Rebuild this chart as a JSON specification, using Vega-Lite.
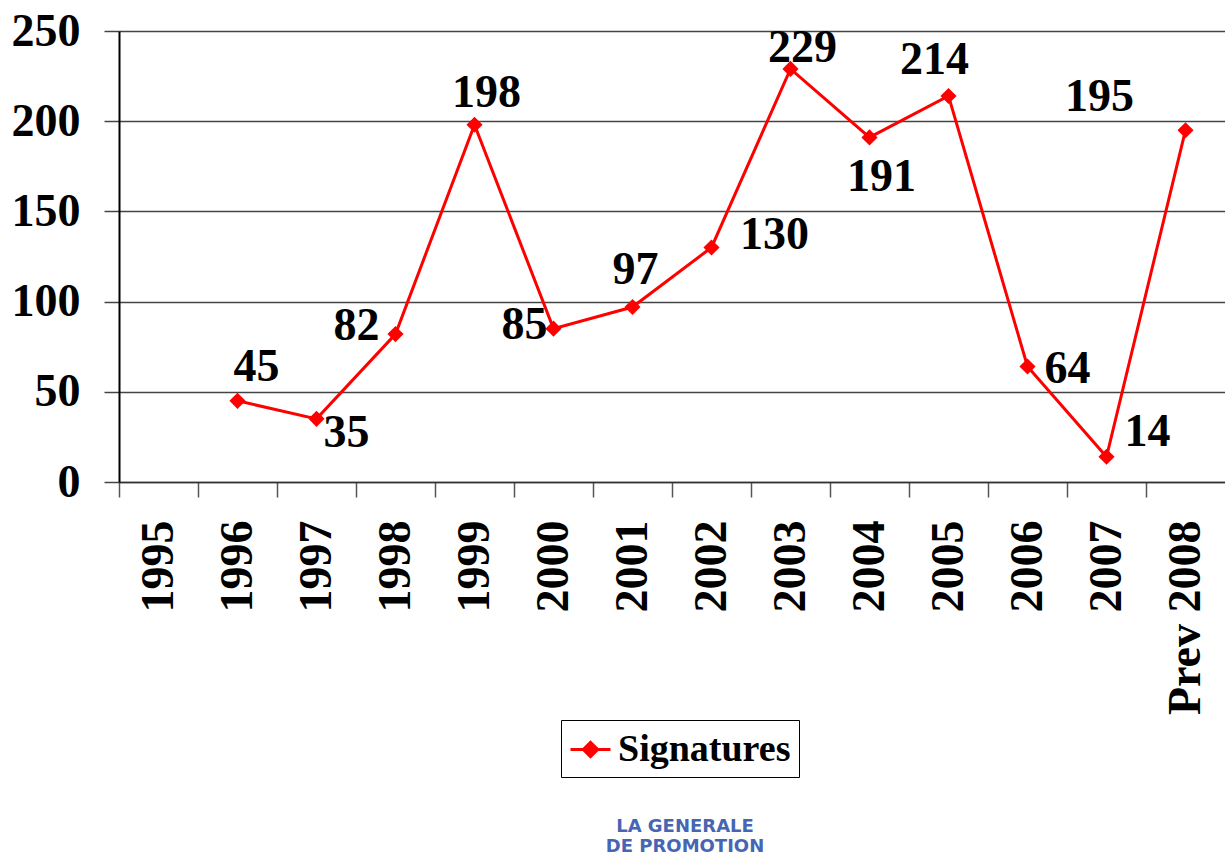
{
  "$schema": "https://vega.github.io/schema/vega-lite/v6.json",
  "autosize": "none",
  "width": 1106,
  "height": 451,
  "padding": {"left": 119, "top": 31, "right": 0, "bottom": 372},
  "background": "white",
  "title": {
    "text": ["LA GENERALE", "DE PROMOTION"],
    "orient": "bottom",
    "anchor": "middle",
    "frame": "group",
    "font": "DejaVu Sans",
    "fontSize": 18,
    "fontWeight": "bold",
    "color": "#4665b3",
    "lineHeight": 20,
    "offset": 40,
    "dx": 13
  },
  "data": {
    "values": [
      {"year": "1995", "value": null},
      {"year": "1996", "value": 45},
      {"year": "1997", "value": 35},
      {"year": "1998", "value": 82},
      {"year": "1999", "value": 198},
      {"year": "2000", "value": 85},
      {"year": "2001", "value": 97},
      {"year": "2002", "value": 130},
      {"year": "2003", "value": 229},
      {"year": "2004", "value": 191},
      {"year": "2005", "value": 214},
      {"year": "2006", "value": 64},
      {"year": "2007", "value": 14},
      {"year": "Prev 2008", "value": 195}
    ]
  },
  "encoding": {
    "x": {
      "field": "year",
      "type": "ordinal",
      "sort": null,
      "scale": {"domain": ["1995","1996","1997","1998","1999","2000","2001","2002","2003","2004","2005","2006","2007","Prev 2008"], "type": "band", "paddingInner": 0, "paddingOuter": 0},
      "axis": {
        "title": null,
        "labelAngle": -90,
        "labelAlign": "right",
        "labelBaseline": "middle",
        "labelFont": "Liberation Serif",
        "labelFontWeight": "bold",
        "labelFontSize": 46,
        "labelColor": "black",
        "labelPadding": 23,
        "labelLimit": 400,
        "labelOverlap": false,
        "bandPosition": 0,
        "tickSize": 15,
        "tickColor": "#555555",
        "tickWidth": 1.5,
        "domainColor": "#333333",
        "domainWidth": 1.5,
        "grid": false
      }
    },
    "y": {
      "field": "value",
      "type": "quantitative",
      "scale": {"domain": [0, 250], "nice": false},
      "axis": {
        "title": null,
        "values": [0, 50, 100, 150, 200, 250],
        "labelFont": "Liberation Serif",
        "labelFontWeight": "bold",
        "labelFontSize": 46,
        "labelColor": "black",
        "labelPadding": 24,
        "tickSize": 15,
        "tickColor": "#444444",
        "tickWidth": 1.5,
        "domainColor": "black",
        "domainWidth": 2,
        "grid": true,
        "gridColor": "#444444",
        "gridWidth": 1.5
      }
    }
  },
  "layer": [
    {
      "mark": {"type": "line", "color": "#ff0000", "strokeWidth": 3, "point": {"shape": "diamond", "size": 260, "filled": true, "color": "#ff0000"}},
      "encoding": {
        "color": {
          "datum": "Signatures",
          "scale": {"range": ["#ff0000"]},
          "legend": {
            "title": null,
            "orient": "none",
            "legendX": 442,
            "legendY": 689,
            "direction": "horizontal",
            "labelFont": "Liberation Serif",
            "labelFontWeight": "bold",
            "labelFontSize": 38,
            "labelColor": "black",
            "labelOffset": 6,
            "strokeColor": "black",
            "padding": 8,
            "symbolType": "M-1,0H1M-0.36,0L0,-0.36L0.36,0L0,0.36Z",
            "symbolSize": 1600,
            "symbolStrokeWidth": 3,
            "symbolFillColor": "#ff0000",
            "symbolStrokeColor": "#ff0000",
            "labelLimit": 400
          }
        }
      }
    },
    {"transform": [{"filter": "datum.year == '1996'"}], "mark": {"type": "text", "font": "Liberation Serif", "fontWeight": "bold", "fontSize": 46, "dx": 19, "dy": -34, "baseline": "middle"}, "encoding": {"text": {"field": "value"}}},
    {"transform": [{"filter": "datum.year == '1997'"}], "mark": {"type": "text", "font": "Liberation Serif", "fontWeight": "bold", "fontSize": 46, "dx": 30, "dy": 14, "baseline": "middle"}, "encoding": {"text": {"field": "value"}}},
    {"transform": [{"filter": "datum.year == '1998'"}], "mark": {"type": "text", "font": "Liberation Serif", "fontWeight": "bold", "fontSize": 46, "dx": -39, "dy": -8, "baseline": "middle"}, "encoding": {"text": {"field": "value"}}},
    {"transform": [{"filter": "datum.year == '1999'"}], "mark": {"type": "text", "font": "Liberation Serif", "fontWeight": "bold", "fontSize": 46, "dx": 12, "dy": -32, "baseline": "middle"}, "encoding": {"text": {"field": "value"}}},
    {"transform": [{"filter": "datum.year == '2000'"}], "mark": {"type": "text", "font": "Liberation Serif", "fontWeight": "bold", "fontSize": 46, "dx": -29, "dy": -4, "baseline": "middle"}, "encoding": {"text": {"field": "value"}}},
    {"transform": [{"filter": "datum.year == '2001'"}], "mark": {"type": "text", "font": "Liberation Serif", "fontWeight": "bold", "fontSize": 46, "dx": 3, "dy": -37, "baseline": "middle"}, "encoding": {"text": {"field": "value"}}},
    {"transform": [{"filter": "datum.year == '2002'"}], "mark": {"type": "text", "font": "Liberation Serif", "fontWeight": "bold", "fontSize": 46, "dx": 63, "dy": -12, "baseline": "middle"}, "encoding": {"text": {"field": "value"}}},
    {"transform": [{"filter": "datum.year == '2003'"}], "mark": {"type": "text", "font": "Liberation Serif", "fontWeight": "bold", "fontSize": 46, "dx": 12, "dy": -21, "baseline": "middle"}, "encoding": {"text": {"field": "value"}}},
    {"transform": [{"filter": "datum.year == '2004'"}], "mark": {"type": "text", "font": "Liberation Serif", "fontWeight": "bold", "fontSize": 46, "dx": 12, "dy": 40, "baseline": "middle"}, "encoding": {"text": {"field": "value"}}},
    {"transform": [{"filter": "datum.year == '2005'"}], "mark": {"type": "text", "font": "Liberation Serif", "fontWeight": "bold", "fontSize": 46, "dx": -14, "dy": -36, "baseline": "middle"}, "encoding": {"text": {"field": "value"}}},
    {"transform": [{"filter": "datum.year == '2006'"}], "mark": {"type": "text", "font": "Liberation Serif", "fontWeight": "bold", "fontSize": 46, "dx": 40, "dy": 2, "baseline": "middle"}, "encoding": {"text": {"field": "value"}}},
    {"transform": [{"filter": "datum.year == '2007'"}], "mark": {"type": "text", "font": "Liberation Serif", "fontWeight": "bold", "fontSize": 46, "dx": 41, "dy": -25, "baseline": "middle"}, "encoding": {"text": {"field": "value"}}},
    {"transform": [{"filter": "datum.year == 'Prev 2008'"}], "mark": {"type": "text", "font": "Liberation Serif", "fontWeight": "bold", "fontSize": 46, "dx": -86, "dy": -33, "baseline": "middle"}, "encoding": {"text": {"field": "value"}}}
  ],
  "config": {"view": {"stroke": null}}
}
